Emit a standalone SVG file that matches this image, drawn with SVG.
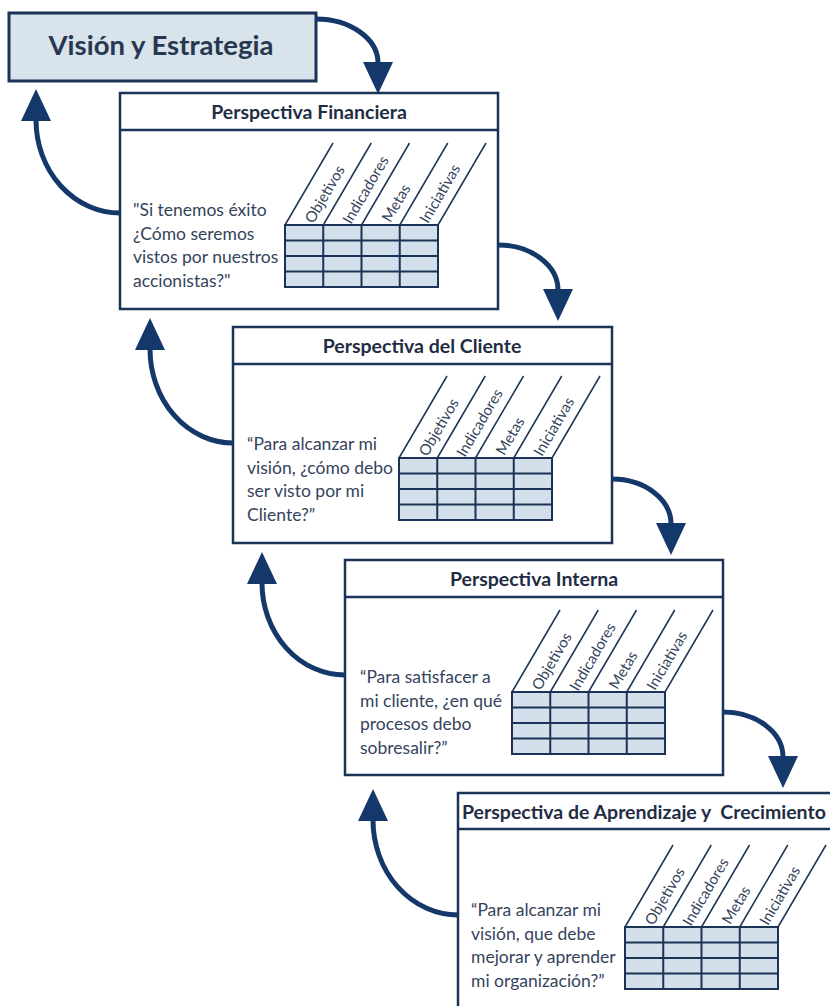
<svg xmlns="http://www.w3.org/2000/svg" width="830" height="1006" viewBox="0 0 830 1006">
<style>
.box{fill:#ffffff;stroke:#1b3356;stroke-width:2.5}
.hdr{stroke:#1b3356;stroke-width:2.5}
.title{font-family:Lato,"Open Sans",sans-serif;font-weight:bold;font-size:19.5px;fill:#1f2d44}
.body{font-family:Lato,"Open Sans",sans-serif;font-size:17.5px;fill:#34445c}
.lbl{font-family:Lato,"Open Sans",sans-serif;font-size:15px;fill:#34445c}
.cell{fill:#d3dfea;stroke:#1b3356;stroke-width:2}
.grid{stroke:#1b3356;stroke-width:2}
.slant{stroke:#1b3356;stroke-width:1.5}
.arrow{fill:none;stroke:#15386a;stroke-width:5}
</style>
<defs>
<marker id="ah" markerUnits="userSpaceOnUse" markerWidth="32" markerHeight="30" viewBox="0 0 32 30" refX="1" refY="15" orient="auto">
<path d="M0,0 L32,15 L0,30 Z" fill="#15386a"/>
</marker>
<g id="table">
<rect class="cell" x="0" y="0" width="153" height="62"/>
<line class="grid" x1="0" y1="15.5" x2="153" y2="15.5"/>
<line class="grid" x1="0" y1="31" x2="153" y2="31"/>
<line class="grid" x1="0" y1="46.5" x2="153" y2="46.5"/>
<line class="grid" x1="38.25" y1="0" x2="38.25" y2="62"/>
<line class="grid" x1="76.5" y1="0" x2="76.5" y2="62"/>
<line class="grid" x1="114.75" y1="0" x2="114.75" y2="62"/>
<line class="slant" x1="0" y1="0" x2="48" y2="-82"/>
<line class="slant" x1="38.25" y1="0" x2="86.25" y2="-82"/>
<line class="slant" x1="76.5" y1="0" x2="124.5" y2="-82"/>
<line class="slant" x1="114.75" y1="0" x2="162.75" y2="-82"/>
<line class="slant" x1="153" y1="0" x2="201" y2="-82"/>
<text class="lbl" transform="translate(0,0) rotate(-59.66)" x="15" y="24">Objetivos</text>
<text class="lbl" transform="translate(38.25,0) rotate(-59.66)" x="14" y="24">Indicadores</text>
<text class="lbl" transform="translate(76.5,0) rotate(-59.66)" x="16" y="24">Metas</text>
<text class="lbl" transform="translate(114.75,0) rotate(-59.66)" x="15" y="24">Iniciativas</text>
</g>
</defs>

<g id="vision">
<rect x="9" y="13" width="307" height="68" fill="#d8e3ec" stroke="#1b3356" stroke-width="3"/>
<text x="161" y="55" text-anchor="middle" style="font-family:Lato,'Open Sans',sans-serif;font-weight:bold;font-size:27.5px;fill:#26384f">Visión y Estrategia</text>
</g>

<g id="financiera" transform="translate(120,93)">
<rect class="box" x="0" y="0" width="378" height="216"/>
<line class="hdr" x1="0" y1="37" x2="378" y2="37"/>
<text class="title" x="189" y="26" text-anchor="middle">Perspectiva Financiera</text>
<text class="body" x="13" y="123">"Si tenemos éxito</text>
<text class="body" x="13" y="146.5">¿Cómo seremos</text>
<text class="body" x="13" y="170">vistos por nuestros</text>
<text class="body" x="13" y="193.5">accionistas?"</text>
<use href="#table" x="165" y="132"/>
</g>

<g id="cliente" transform="translate(233,327)">
<rect class="box" x="0" y="0" width="379" height="216"/>
<line class="hdr" x1="0" y1="37" x2="379" y2="37"/>
<text class="title" x="189" y="26" text-anchor="middle">Perspectiva del Cliente</text>
<text class="body" x="14" y="123">“Para alcanzar mi</text>
<text class="body" x="14" y="146.5">visión, ¿cómo debo</text>
<text class="body" x="14" y="170">ser visto por mi</text>
<text class="body" x="14" y="193.5">Cliente?”</text>
<use href="#table" x="166" y="131"/>
</g>

<g id="interna" transform="translate(345,560)">
<rect class="box" x="0" y="0" width="378" height="215"/>
<line class="hdr" x1="0" y1="37" x2="378" y2="37"/>
<text class="title" x="189" y="26" text-anchor="middle">Perspectiva Interna</text>
<text class="body" x="15" y="123">“Para satisfacer a</text>
<text class="body" x="15" y="146.5">mi cliente, ¿en qué</text>
<text class="body" x="15" y="170">procesos debo</text>
<text class="body" x="15" y="193.5">sobresalir?”</text>
<use href="#table" x="167" y="132"/>
</g>

<g id="aprendizaje" transform="translate(458,793)">
<rect class="box" x="0" y="0" width="380" height="220"/>
<line class="hdr" x1="0" y1="36" x2="380" y2="36"/>
<text class="title" x="4" y="26" xml:space="preserve">Perspectiva de Aprendizaje y  Crecimiento</text>
<text class="body" x="13" y="123">“Para alcanzar mi</text>
<text class="body" x="13" y="146.5">visión, que debe</text>
<text class="body" x="13" y="170">mejorar y aprender</text>
<text class="body" x="13" y="193.5">mi organización?”</text>
<use href="#table" x="167" y="134"/>
</g>

<g id="connectors">
<path class="arrow" marker-end="url(#ah)" d="M316,19 A62,44 0 0 1 378,63"/>
<path class="arrow" marker-end="url(#ah)" d="M498,245 A60,45 0 0 1 558,290"/>
<path class="arrow" marker-end="url(#ah)" d="M612,479 A59,45 0 0 1 671,524"/>
<path class="arrow" marker-end="url(#ah)" d="M723,712 A60,45 0 0 1 783,757"/>
<path class="arrow" marker-end="url(#ah)" d="M120,213 A84,93 0 0 1 36,120"/>
<path class="arrow" marker-end="url(#ah)" d="M233,443 A83,94 0 0 1 150,349"/>
<path class="arrow" marker-end="url(#ah)" d="M345,675 A83,92 0 0 1 262,583"/>
<path class="arrow" marker-end="url(#ah)" d="M458,915 A85,95 0 0 1 373,820"/>
</g>
</svg>
